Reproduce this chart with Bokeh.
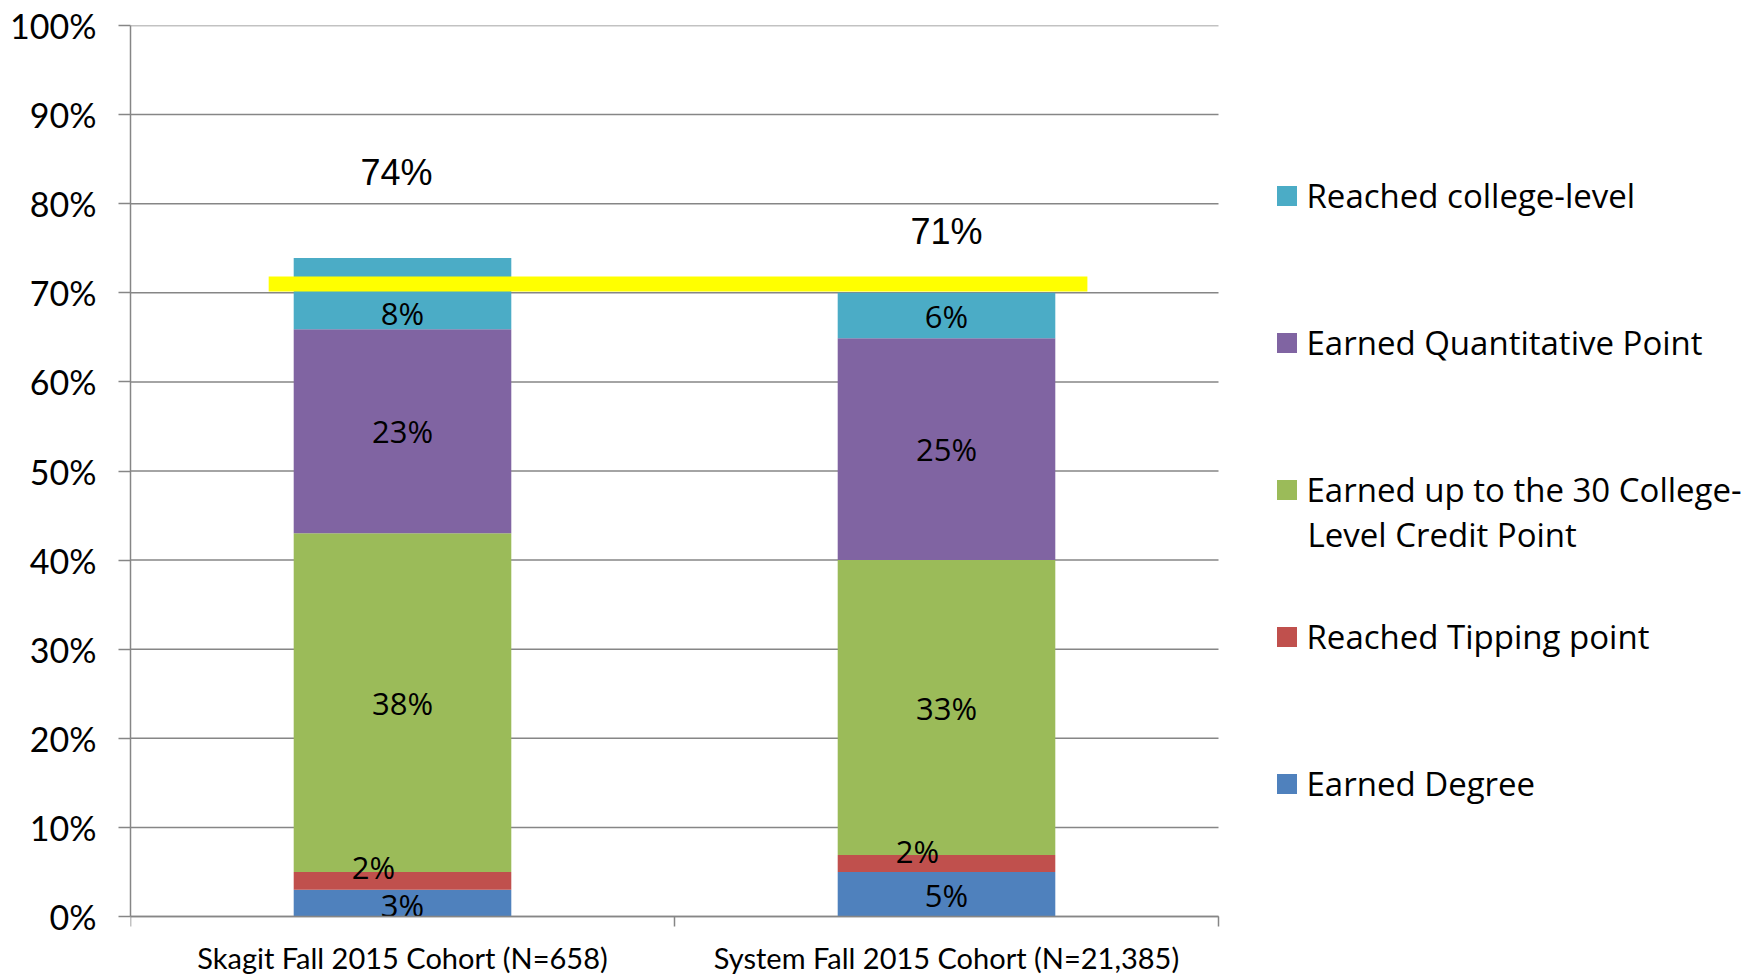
from bokeh.plotting import figure
from bokeh.models import ColumnDataSource, Range1d, FixedTicker, Legend, LegendItem, Label
from bokeh.core.properties import value
from bokeh.embed import file_html
from bokeh.resources import INLINE

# ---------------- data ----------------
cohorts = ["Skagit Fall 2015 Cohort (N=658)", "System Fall 2015 Cohort (N=21,385)"]
series_names = [
    "Earned Degree",
    "Reached Tipping point",
    "Earned up to the 30 College-Level Credit Point",
    "Earned Quantitative Point",
    "Reached college-level",
]
earned_degree = [3.0, 5.0]
tipping_point = [2.0, 1.9]
credit_point = [38.0, 33.1]
quant_point = [22.9, 24.9]
college_level = [8.0, 5.1]

degree_labels = ["3%", "5%"]
tipping_labels = ["2%", "2%"]
credit_labels = ["38%", "33%"]
quant_labels = ["23%", "25%"]
college_labels = ["8%", "6%"]
total_labels = ["74%", "71%"]
reference_level = 71.0
y_ticks = [0, 10, 20, 30, 40, 50, 60, 70, 80, 90, 100]

# ---------------- style / layout ----------------
colors = ["#4F81BD", "#C0504D", "#9BBB59", "#8064A2", "#4BACC6"]
grid_color = "#868686"
tick_font = "Lato"
legend_font = "Open Sans"

W, H = 1752, 975
LEFT, TOP = 130, 25
PLOT_W, PLOT_H = 1088, 891          # pixel size of the 0..2 x 0..100 chart area
x_end = 2.0 * (W - LEFT) / PLOT_W    # frame extends right to hold the legend
y_start = -100.0 * (H - TOP - PLOT_H) / PLOT_H  # frame extends down to hold the x labels

xs = [0.5, 1.5]
stack_keys = ["degree", "tipping", "credit", "quant", "college"]
src = ColumnDataSource(dict(x=xs, degree=earned_degree, tipping=tipping_point,
                            credit=credit_point, quant=quant_point, college=college_level))

p = figure(width=W, height=H, x_range=Range1d(0, x_end), y_range=Range1d(y_start, 100),
           output_backend="svg", toolbar_location=None,
           min_border_left=LEFT, min_border_right=0, min_border_top=TOP, min_border_bottom=0)
p.outline_line_color = None
p.background_fill_color = "white"
p.border_fill_color = "white"
p.xgrid.visible = False
p.ygrid.visible = False

# horizontal gridlines over the category area only
p.segment(x0=0, x1=2, y0=y_ticks, y1=y_ticks, line_color=grid_color, line_width=1.5)

rs = p.vbar_stack(stack_keys, x="x", width=0.4, fill_color=colors, line_color=None, source=src)

# reference (yellow) line
p.segment(x0=[0.254], x1=[1.759], y0=[reference_level], y1=[reference_level],
          line_color="#FFFF00", line_width=15, line_cap="butt")

# data labels inside bars
series_vals = [earned_degree, tipping_point, credit_point, quant_point, college_level]
series_labels = [degree_labels, tipping_labels, credit_labels, quant_labels, college_labels]
label_dx = [[0, 0], [-29, -29], [0, 0], [0, 0], [0, 0]]
label_dy = [[2, 1], [-14, -12], [0, 0], [0, 0], [19, 0]]
lx, ly, lt, ldx, ldy = [], [], [], [], []
for i, xv in enumerate(xs):
    base = 0.0
    for s in range(5):
        v = series_vals[s][i]
        lx.append(xv)
        ly.append(base + v / 2.0)
        lt.append(series_labels[s][i])
        ldx.append(label_dx[s][i])
        ldy.append(label_dy[s][i])
        base += v
lab_src = ColumnDataSource(dict(x=lx, y=ly, t=lt, dx=ldx, dy=ldy))
p.text(x="x", y="y", text="t", x_offset="dx", y_offset="dy", source=lab_src,
       text_font=value(legend_font), text_font_size="31px", text_color="black",
       text_align="center", text_baseline="middle")

# totals above bars
totals = [sum(series_vals[s][i] for s in range(5)) for i in range(2)]
tot_src = ColumnDataSource(dict(x=xs, y=totals, t=total_labels, dx=[-6, 0], dy=[-86, -61]))
p.text(x="x", y="y", text="t", x_offset="dx", y_offset="dy", source=tot_src,
       text_font=value("Liberation Sans"), text_font_size="36px", text_color="black",
       text_align="center", text_baseline="middle")

# axes
p.yaxis.bounds = (0, 100)
p.yaxis.ticker = FixedTicker(ticks=y_ticks)
p.yaxis.major_label_overrides = {t: f"{t}%" for t in y_ticks}
p.yaxis.major_label_text_font = tick_font
p.yaxis.major_label_text_font_size = "34px"
p.yaxis.major_label_text_color = "black"
p.yaxis.axis_line_color = grid_color
p.yaxis.axis_line_width = 1.5
p.yaxis.major_tick_line_color = grid_color
p.yaxis.major_tick_line_width = 1.5
p.yaxis.major_tick_out = 12
p.yaxis.major_tick_in = 0
p.yaxis.minor_tick_line_color = None
p.yaxis.major_label_standoff = 22

xa = p.xaxis[0]
xa.fixed_location = 0
xa.bounds = (0, 2)
xa.ticker = FixedTicker(ticks=xs, minor_ticks=[0, 1, 2])
xa.major_label_overrides = {xs[i]: cohorts[i] for i in range(2)}
xa.major_label_text_font = tick_font
xa.major_label_text_font_size = "29px"
xa.major_label_text_color = "black"
xa.axis_line_color = grid_color
xa.axis_line_width = 1.5
xa.major_tick_line_color = None
xa.major_tick_out = 0
xa.major_tick_in = 0
xa.minor_tick_line_color = grid_color
xa.minor_tick_line_width = 1.5
xa.minor_tick_out = 10
xa.minor_tick_in = 0
xa.major_label_standoff = 13

# legend
items = [LegendItem(label="Reached college-level", renderers=[rs[4]]),
         LegendItem(label="Earned Quantitative Point", renderers=[rs[3]]),
         LegendItem(label="Earned up to the 30 College-", renderers=[rs[2]]),
         LegendItem(label="Reached Tipping point", renderers=[rs[1]]),
         LegendItem(label="Earned Degree", renderers=[rs[0]])]
legend = Legend(items=items, location=(1143.5, 167.5), orientation="vertical",
                glyph_width=25, glyph_height=25, label_height=48, label_standoff=8,
                spacing=99, padding=0, margin=0,
                label_text_font=legend_font, label_text_font_size="33px",
                label_text_color="black", border_line_color=None,
                background_fill_alpha=0)
p.add_layout(legend, "center")
p.add_layout(Label(x=1177, y=441, x_units="screen", y_units="screen",
                   text="Level Credit Point", text_font=legend_font,
                   text_font_size="33px", text_color="black", text_baseline="middle"))

open("out.html", "w").write(file_html(p, INLINE))
